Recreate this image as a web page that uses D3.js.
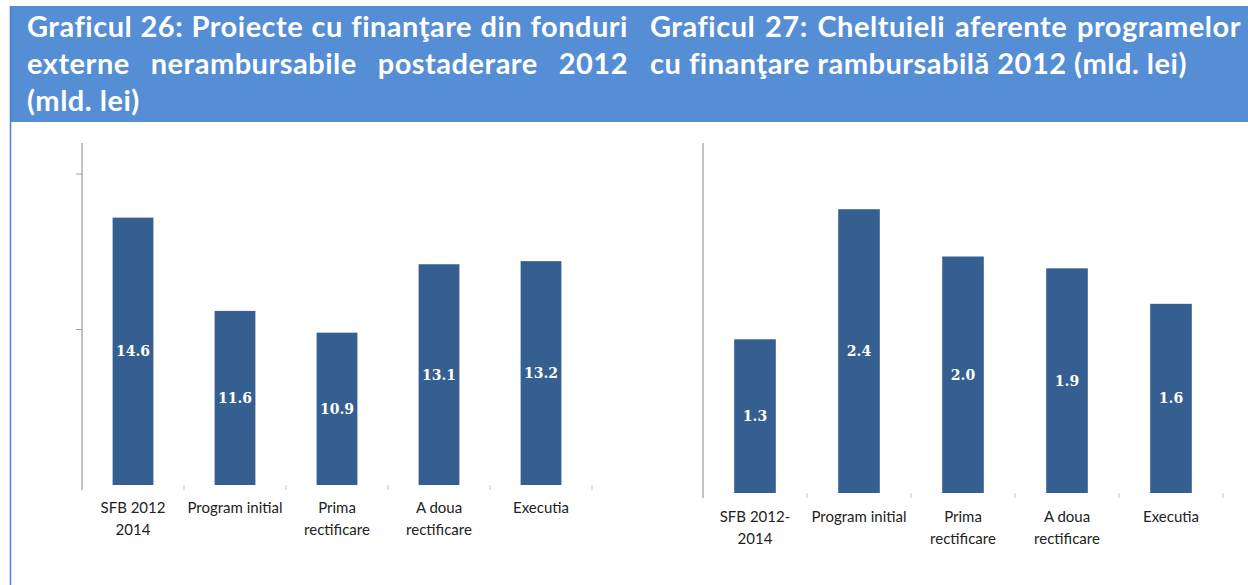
<!DOCTYPE html>
<html><head><meta charset="utf-8">
<script src="https://cdn.jsdelivr.net/npm/d3@7"></script>
<style>body{margin:0;background:#fff;} svg{display:block}</style>
</head><body>
<svg id="c" width="1248" height="585"></svg>
<script>
// ---- data ----
const leftTitle = ["Graficul 26: Proiecte cu finanţare din fonduri", "externe nerambursabile postaderare 2012", "(mld. lei)"];
const rightTitle = ["Graficul 27: Cheltuieli aferente programelor", "cu finanţare rambursabilă 2012 (mld. lei)"];
const leftCategories = [["SFB 2012", "2014"], ["Program initial"], ["Prima", "rectificare"], ["A doua", "rectificare"], ["Executia"]];
const leftValues = [14.6, 11.6, 10.9, 13.1, 13.2];
const leftTicks = [11, 16];
const rightCategories = [["SFB 2012-", "2014"], ["Program initial"], ["Prima", "rectificare"], ["A doua", "rectificare"], ["Executia"]];
const rightValues = [1.3, 2.4, 2.0, 1.9, 1.6];
const rightTicks = [];

const svg = d3.select("#c");
const HEADER = "#558ED5", BAR = "#365F91", AXIS = "#9a9a9a";

// header band
svg.append("rect").attr("x", 10).attr("y", 6).attr("width", 1238).attr("height", 116).attr("fill", HEADER);
svg.append("line").attr("x1", 10.5).attr("x2", 10.5).attr("y1", 6).attr("y2", 585)
  .attr("stroke", "#4A7FCF").attr("stroke-width", 1.5);

function drawTitle(lines, xL, xR, y0, lh) {
  const g = svg.append("g").attr("font-family", "Lato, 'Open Sans', sans-serif")
    .attr("font-weight", "bold").attr("font-size", 29).attr("letter-spacing", 0.5).attr("fill", "#fff");
  lines.forEach((line, i) => {
    const y = y0 + i * lh;
    const last = i === lines.length - 1;
    if (last) {
      g.append("text").attr("x", xL).attr("y", y).text(line);
      return;
    }
    const words = line.split(" ");
    const nodes = words.map(w => g.append("text").attr("y", y).text(w));
    const widths = nodes.map(n => n.node().getComputedTextLength());
    const total = d3.sum(widths);
    const gap = (xR - xL - total) / (words.length - 1);
    let x = xL;
    nodes.forEach((n, k) => { n.attr("x", x); x += widths[k] + gap; });
  });
}
drawTitle(leftTitle, 27, 628, 37, 37);
drawTitle(rightTitle, 650, 1241, 37, 37);

function drawChart(o) {
  const x = d3.scaleBand().domain(d3.range(o.values.length)).range([o.x0, o.x1]);
  const y = d3.scaleLinear().domain(o.domain).range([o.yBase, o.yTop]);
  const g = svg.append("g");
  const bw = x.bandwidth() * 0.4;
  // y axis line
  g.append("line").attr("x1", o.x0).attr("x2", o.x0).attr("y1", o.yTop).attr("y2", o.yBase + 5)
    .attr("stroke", AXIS).attr("stroke-width", 1.2);
  // y ticks
  g.selectAll(".yt").data(o.ticks).join("line")
    .attr("x1", o.x0 - 6).attr("x2", o.x0).attr("y1", d => y(d)).attr("y2", d => y(d))
    .attr("stroke", AXIS).attr("stroke-width", 1);
  // x boundary ticks
  const bounds = d3.range(o.values.length + 1).map(i => o.x0 + i * x.step());
  g.selectAll(".xt").data(bounds.slice(1)).join("line")
    .attr("x1", d => d).attr("x2", d => d).attr("y1", o.yBase).attr("y2", o.yBase + 5)
    .attr("stroke", "#c4c4c4").attr("stroke-width", 1);
  // bars
  g.selectAll(".bar").data(o.values).join("rect")
    .attr("x", (d, i) => x(i) + x.bandwidth() / 2 - bw / 2)
    .attr("width", bw)
    .attr("y", d => y(d)).attr("height", d => o.yBase - y(d))
    .attr("fill", BAR);
  // value labels
  g.selectAll(".val").data(o.values).join("text")
    .attr("x", (d, i) => x(i) + x.bandwidth() / 2)
    .attr("y", d => (y(d) + o.yBase) / 2 + 5)
    .attr("text-anchor", "middle")
    .attr("font-family", "'DejaVu Serif', serif").attr("font-weight", "bold").attr("font-size", 14)
    .attr("fill", "#fff")
    .text(d => d.toFixed(1));
  // category labels
  const cl = g.selectAll(".cat").data(o.categories).join("text")
    .attr("text-anchor", "middle")
    .attr("font-family", "Lato, 'Open Sans', sans-serif").attr("font-size", 15).attr("fill", "#222");
  cl.each(function (lines, i) {
    d3.select(this).selectAll("tspan").data(lines).join("tspan")
      .attr("x", x(i) + x.bandwidth() / 2)
      .attr("y", (d, k) => o.labelY + k * 22)
      .text(d => d);
  });
}

drawChart({ values: leftValues, categories: leftCategories, ticks: leftTicks,
  x0: 82, x1: 592, yBase: 485, yTop: 143, domain: [6, 17], labelY: 513 });
drawChart({ values: rightValues, categories: rightCategories, ticks: rightTicks,
  x0: 703, x1: 1223, yBase: 493, yTop: 143, domain: [0, 2.96], labelY: 522 });
</script>
</body></html>
